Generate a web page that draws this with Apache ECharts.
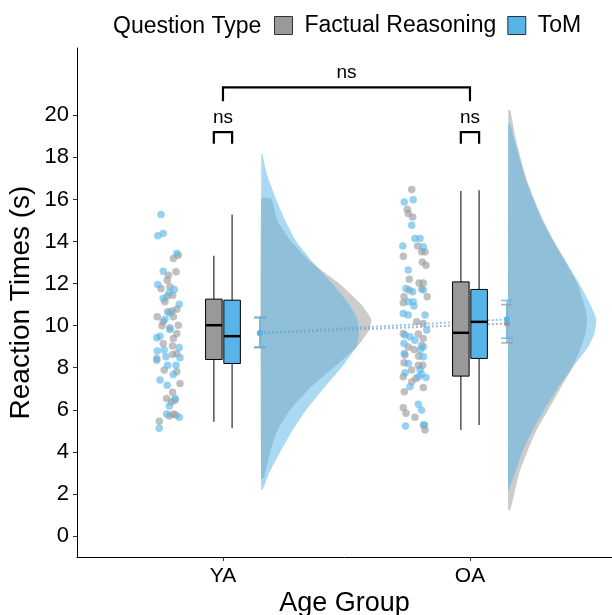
<!DOCTYPE html>
<html>
<head>
<meta charset="utf-8">
<script src="https://cdn.jsdelivr.net/npm/echarts@6/dist/echarts.min.js"></script>
<style>
html, body { margin: 0; padding: 0; background: #fff; }
#main { width: 612px; height: 615px; }
</style>
</head>
<body>
<div id="main"></div>
<script>
// categories / tick labels
var groups = ['YA', 'OA'];
var types = ['Factual Reasoning', 'ToM'];
var yTicks = [0, 2, 4, 6, 8, 10, 12, 14, 16, 18, 20];

// box stats per group: [min, q1, median, q3, max]
var boxFactual = [[5.43, 8.39, 10.02, 11.26, 13.32], [5.04, 7.6, 9.66, 12.08, 16.4]];
var boxToM = [[5.12, 8.2, 9.5, 11.21, 15.28], [5.27, 8.44, 10.18, 11.72, 16.44]];

// mean, lower, upper per group
var meanFactual = [[9.64, 8.95, 10.41], [10.1, 9.18, 11.0]];
var meanToM = [[9.65, 9.0, 10.36], [10.3, 9.4, 11.2]];

// raw points [x (jittered), rt]
var dotsFactualYA = [[0.819,13.35],[0.799,13.19],[0.810,12.56],[0.779,12.4],[0.774,12.16],[0.749,11.77],[0.785,11.85],
  [0.774,11.4],[0.796,11.45],[0.765,11.13],[0.813,10.78],[0.794,10.7],[0.776,10.66],[0.734,10.42],[0.758,10.18],
  [0.799,10.42],[0.819,10.02],[0.753,10.0],[0.785,9.9],[0.813,9.63],[0.799,9.39],[0.758,9.15],[0.796,9.03],
  [0.813,8.68],[0.796,8.63],[0.732,8.44],[0.762,7.89],[0.813,7.81],[0.826,7.25],[0.796,6.83],[0.772,6.54],
  [0.792,6.38],[0.806,6.45],[0.783,5.7],[0.799,5.8],[0.810,5.75],[0.742,5.46]];
var dotsToMYA = [[0.749,15.28],[0.736,14.27],[0.758,14.38],[0.813,13.43],[0.758,12.59],[0.736,11.96],[0.803,11.72],
  [0.783,11.58],[0.758,11.29],[0.823,11.02],[0.785,10.6],[0.765,10.3],[0.745,9.5],[0.732,9.42],[0.785,9.82],
  [0.734,8.79],[0.762,8.84],[0.823,8.96],[0.826,8.47],[0.769,8.52],[0.732,8.36],[0.776,8.12],[0.810,8.12],
  [0.799,7.68],[0.745,7.41],[0.774,7.17],[0.806,6.54],[0.783,6.18],[0.772,5.8],[0.823,5.64],[0.742,5.12]];
var dotsFactualOA = [[1.764,16.47],[1.746,15.53],[1.750,15.33],[1.768,15.17],[1.788,13.79],[1.804,13.51],[1.818,13.51],
  [1.730,13.3],[1.807,13.03],[1.822,12.87],[1.754,12.21],[1.794,12.03],[1.811,12.03],[1.804,11.75],[1.733,11.37],
  [1.754,11.69],[1.730,11.09],[1.827,11.37],[1.784,10.18],[1.811,10.1],[1.791,9.6],[1.730,9.63],[1.811,9.39],
  [1.804,9.07],[1.750,8.99],[1.773,8.87],[1.737,8.6],[1.792,8.55],[1.791,8.12],[1.809,8.12],[1.733,8.23],
  [1.764,7.89],[1.730,7.57],[1.781,7.49],[1.764,7.33],[1.811,7.06],[1.734,6.86],[1.730,6.1],[1.741,5.83],
  [1.777,5.64],[1.811,5.27],[1.818,5.04]];
var dotsToMOA = [[1.734,15.88],[1.770,15.99],[1.764,14.77],[1.777,14.14],[1.798,14.14],[1.811,13.75],[1.728,13.79],
  [1.750,12.64],[1.741,11.77],[1.768,11.61],[1.811,11.69],[1.770,11.13],[1.750,11.13],[1.773,10.93],[1.730,10.58],
  [1.750,10.5],[1.818,10.5],[1.825,9.79],[1.737,9.55],[1.757,9.47],[1.777,9.31],[1.733,9.15],[1.811,8.99],
  [1.798,8.84],[1.734,8.68],[1.811,8.52],[1.750,8.2],[1.798,7.92],[1.737,7.76],[1.791,7.57],[1.822,7.54],
  [1.804,7.7],[1.757,7.1],[1.791,6.26],[1.804,5.99],[1.739,5.23],[1.816,5.27]];

// half-violin density profiles [rt, density]
var violinFactualYA = [[16.04,0.10],[15,0.16],[14,0.30],[13,0.50],[12,0.78],[11,1.00],[10.3,1.10],[9.8,1.08],
  [9,0.96],[8,0.72],[7,0.48],[6,0.29],[5,0.16],[4,0.09],[3,0.04],[2.75,0.03]];
var violinToMYA = [[18.18,0.01],[17.5,0.04],[17,0.07],[16,0.15],[15,0.24],[14,0.35],[13,0.52],[12,0.71],[11,0.88],
  [10.3,0.96],[9.6,0.98],[9,0.95],[8,0.80],[7,0.62],[6,0.45],[5,0.31],[4,0.19],[3,0.08],[2.5,0.04],[2.19,0.01]];
var violinFactualOA = [[20.24,0.02],[19.5,0.05],[19,0.07],[18,0.12],[17,0.18],[16,0.26],[15,0.35],[14,0.46],[13,0.58],
  [12,0.69],[11,0.76],[10.3,0.79],[9.6,0.77],[9,0.73],[8,0.64],[7,0.52],[6,0.40],[5,0.28],[4,0.19],[3,0.11],
  [2,0.06],[1.24,0.02]];
var violinToMOA = [[19.6,0.02],[19,0.05],[18,0.11],[17,0.17],[16,0.25],[15,0.34],[14,0.45],[13,0.58],[12,0.71],
  [11,0.82],[10.3,0.88],[9.6,0.86],[9,0.80],[8,0.64],[7,0.49],[6,0.36],[5,0.24],[4,0.14],[3,0.07],[2.5,0.03],[2.19,0.01]];

// significance brackets [x1, x2, y, tip]
var brackets = [[1, 2, 21.33, 20.67], [0.963, 1.037, 19.2, 18.65], [1.963, 2.037, 19.2, 18.65]];
var bracketLabels = ['ns', 'ns', 'ns'];

var grey = '#999999', blue = '#56B4E9';
var font = 'Liberation Sans, Arial, sans-serif';
var boxOffset = 0.037, boxWidth = 0.067, meanOffset = 0.15, violinOffset = 0.155, violinScale = 0.405;

var myChart = echarts.init(document.getElementById('main'));

function violin(name, gi, profile, color) {
    return {
        type: 'custom', name: name, z: 1, silent: true,
        data: [gi],
        renderItem: function (params, api) {
            var base = gi + 1 + violinOffset;
            var pts = [api.coord([base, profile[0][0]])];
            profile.forEach(function (p) { pts.push(api.coord([base + p[1] * violinScale, p[0]])); });
            pts.push(api.coord([base, profile[profile.length - 1][0]]));
            return { type: 'polygon', shape: { points: pts, smooth: 0.15 }, style: { fill: color, opacity: 0.5 } };
        }
    };
}

function boxes(name, stats, off, color) {
    return {
        type: 'custom', name: name, z: 4, silent: true,
        data: stats.map(function (s, i) { return [i + 1 + off].concat(s); }),
        renderItem: function (params, api) {
            var x = api.value(0);
            var w = api.size([boxWidth, 0])[0];
            var lo = api.coord([x, api.value(1)]), q1 = api.coord([x, api.value(2)]),
                md = api.coord([x, api.value(3)]), q3 = api.coord([x, api.value(4)]), hi = api.coord([x, api.value(5)]);
            return { type: 'group', children: [
                { type: 'line', shape: { x1: lo[0], y1: lo[1], x2: q1[0], y2: q1[1] }, style: { stroke: '#555', lineWidth: 1.5 } },
                { type: 'line', shape: { x1: q3[0], y1: q3[1], x2: hi[0], y2: hi[1] }, style: { stroke: '#555', lineWidth: 1.5 } },
                { type: 'rect', shape: { x: q1[0] - w / 2, y: q3[1], width: w, height: q1[1] - q3[1] },
                  style: { fill: color, stroke: '#000', lineWidth: 1 } },
                { type: 'line', shape: { x1: md[0] - w / 2, y1: md[1], x2: md[0] + w / 2, y2: md[1] }, style: { stroke: '#000', lineWidth: 2.5 } }
            ] };
        }
    };
}

function errorBars(name, means, color) {
    return {
        type: 'custom', name: name, z: 3, silent: true,
        data: means.map(function (m, i) { return [i + 1 + meanOffset].concat(m); }),
        renderItem: function (params, api) {
            var x = api.value(0);
            var lo = api.coord([x, api.value(2)]), hi = api.coord([x, api.value(3)]);
            var c = 6;
            var st = { stroke: color, lineWidth: 1.5, opacity: 0.8 };
            return { type: 'group', children: [
                { type: 'line', shape: { x1: lo[0], y1: lo[1], x2: hi[0], y2: hi[1] }, style: st },
                { type: 'line', shape: { x1: lo[0] - c, y1: lo[1], x2: lo[0] + c, y2: lo[1] }, style: st },
                { type: 'line', shape: { x1: hi[0] - c, y1: hi[1], x2: hi[0] + c, y2: hi[1] }, style: st }
            ] };
        }
    };
}

function meanLine(name, means, color) {
    return {
        type: 'line', name: name, z: 3, silent: true,
        data: means.map(function (m, i) { return [i + 1 + meanOffset, m[0]]; }),
        symbol: 'circle', symbolSize: 6,
        itemStyle: { color: color },
        lineStyle: { color: color, type: 'dotted', width: 2, opacity: 0.7 }
    };
}

function dots(name, data, color) {
    return {
        type: 'scatter', name: name, z: 2, silent: true,
        data: data, symbolSize: 7.5,
        itemStyle: { color: color, opacity: 0.62 }
    };
}

var option = {
    animation: false,
    textStyle: { fontFamily: font },
    grid: { left: 77, right: 0, top: 48, bottom: 58, containLabel: false, outerBoundsMode: 'none' },
    graphic: [{
        type: 'text', left: 113, top: 15,
        style: { text: 'Question Type', fontSize: 23, fontFamily: font, fill: '#000' }
    }],
    legend: {
        left: 274, top: 14, padding: 0, itemWidth: 18, itemHeight: 18, itemGap: 11, selectedMode: false,
        textStyle: { fontSize: 23, color: '#000', fontFamily: font, padding: [0, 0, 0, 7] },
        data: [
            { name: types[0], icon: 'rect', itemStyle: { color: grey, borderColor: '#333', borderWidth: 1 } },
            { name: types[1], icon: 'rect', itemStyle: { color: blue, borderColor: '#333', borderWidth: 1 } }
        ]
    },
    xAxis: {
        type: 'value', min: 0.409, max: 2.575,
        name: 'Age Group', nameLocation: 'middle', nameGap: 33, nameMoveOverlap: false,
        nameTextStyle: { fontSize: 27, color: '#000', fontFamily: font },
        axisLine: { show: true, onZero: false, lineStyle: { color: '#000', width: 1 } },
        axisTick: { show: true, customValues: [1, 2], length: 4, lineStyle: { color: '#333' } },
        axisLabel: { customValues: [1, 2], fontSize: 21, color: '#000', margin: 9,
            formatter: function (v) { return groups[Math.round(v) - 1]; } },
        splitLine: { show: false }
    },
    yAxis: {
        type: 'value', min: -1, max: 23.2,
        name: 'Reaction Times (s)', nameLocation: 'middle', nameGap: 42, nameMoveOverlap: false,
        nameTextStyle: { fontSize: 28, color: '#000', fontFamily: font },
        axisLine: { show: true, onZero: false, lineStyle: { color: '#000', width: 1 } },
        axisTick: { show: true, customValues: yTicks, length: 4, lineStyle: { color: '#333' } },
        axisLabel: { customValues: yTicks, fontSize: 22, color: '#000', margin: 8 },
        splitLine: { show: false }
    },
    series: [
        violin(types[0], 0, violinFactualYA, grey),
        violin(types[0], 1, violinFactualOA, grey),
        violin(types[1], 0, violinToMYA, blue),
        violin(types[1], 1, violinToMOA, blue),
        dots(types[0], dotsFactualYA.concat(dotsFactualOA), grey),
        dots(types[1], dotsToMYA.concat(dotsToMOA), blue),
        errorBars(types[0], meanFactual, grey),
        errorBars(types[1], meanToM, blue),
        meanLine(types[0], meanFactual, grey),
        meanLine(types[1], meanToM, blue),
        boxes(types[0], boxFactual, -boxOffset, grey),
        boxes(types[1], boxToM, boxOffset, blue),
        {
            type: 'custom', name: 'brackets', z: 5, silent: true,
            data: brackets,
            renderItem: function (params, api) {
                var a = api.coord([api.value(0), api.value(3)]), b = api.coord([api.value(0), api.value(2)]),
                    c = api.coord([api.value(1), api.value(2)]), d = api.coord([api.value(1), api.value(3)]);
                return { type: 'group', children: [
                    { type: 'polyline', shape: { points: [a, b, c, d] }, style: { stroke: '#000', lineWidth: 2.2, fill: null } },
                    { type: 'text', x: (b[0] + c[0]) / 2, y: b[1] - 5,
                      style: { text: bracketLabels[params.dataIndex], fontSize: 19, fontFamily: font, fill: '#000',
                               align: 'center', verticalAlign: 'bottom' } }
                ] };
            }
        }
    ]
};

myChart.setOption(option);
window.onresize = function () { myChart.resize(); };
</script>
</body>
</html>
